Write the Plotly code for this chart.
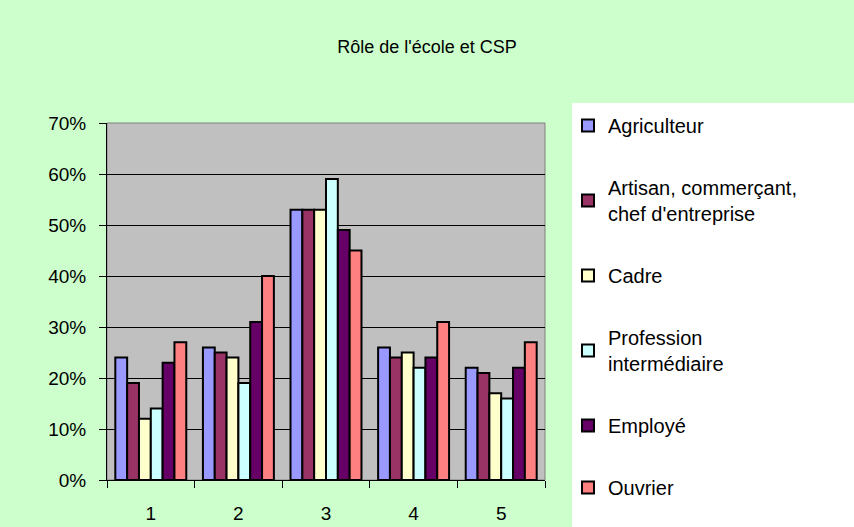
import plotly.graph_objects as go

categories = ["1", "2", "3", "4", "5"]
agriculteur = [0.24, 0.26, 0.53, 0.26, 0.22]
artisan = [0.19, 0.25, 0.53, 0.24, 0.21]
cadre = [0.12, 0.24, 0.53, 0.25, 0.17]
profession = [0.14, 0.19, 0.59, 0.22, 0.16]
employe = [0.23, 0.31, 0.49, 0.24, 0.22]
ouvrier = [0.27, 0.40, 0.45, 0.31, 0.27]

series_names = ["Agriculteur", "Artisan, commerçant,<br>chef d'entreprise", "Cadre",
                "Profession<br>intermédiaire", "Employé", "Ouvrier"]
series_values = [agriculteur, artisan, cadre, profession, employe, ouvrier]
colors = ["#9999FF", "#993366", "#FFFFCC", "#CCFFFF", "#660066", "#FF8080"]

fig = go.Figure()
for i, (name, vals, col) in enumerate(zip(series_names, series_values, colors)):
    fig.add_trace(go.Bar(
        x=categories, y=vals, name=name, legendgroup=f"g{i}",
        marker=dict(color=col, line=dict(color="black", width=2)),
    ))

FONT = "Liberation Sans, Arial, sans-serif"
fig.update_layout(
    width=854, height=527,
    margin=dict(l=107, r=309, t=123, b=47, autoexpand=False),
    paper_bgcolor="#CCFFCC",
    plot_bgcolor="#C0C0C0",
    font=dict(family=FONT, size=19, color="black"),
    title=dict(text="Rôle de l'école et CSP", x=0.5, xanchor="center",
               y=1 - 47 / 527, yanchor="middle", yref="container",
               font=dict(family=FONT, size=18, color="black")),
    barmode="group", bargap=0.19, bargroupgap=0,
    showlegend=True,
    legend=dict(x=(568 - 107) / 438, xanchor="left", y=(480 - 106) / 357,
                yanchor="top", maxheight=520,
                font=dict(family=FONT, size=20, color="black"),
                tracegroupgap=33, traceorder="grouped",
                bgcolor="rgba(0,0,0,0)", itemclick=False),
    xaxis=dict(type="category", showgrid=False, showline=True, linecolor="black",
               linewidth=1, ticks="outside", ticklen=7, tickcolor="black",
               tickson="boundaries", ticklabelstandoff=16, automargin=False,
               tickfont=dict(size=19), fixedrange=True),
    yaxis=dict(range=[0, 0.7], dtick=0.1, tickformat=".0%", showgrid=True,
               gridcolor="black", gridwidth=1, showline=True, linecolor="black",
               linewidth=1, ticks="outside", ticklen=7, tickcolor="black",
               ticklabelstandoff=9, tickfont=dict(size=19), zeroline=False,
               automargin=False, fixedrange=True),
    shapes=[
        dict(type="rect", xref="paper", yref="paper",
             x0=(572 - 107) / 438, x1=(854 - 107) / 438 + 0.01,
             y0=-0.2, y1=(480 - 103) / 357,
             fillcolor="white", line=dict(width=0), layer="below"),
        dict(type="rect", xref="paper", yref="paper", x0=0, x1=1, y0=0, y1=1,
             line=dict(color="#808080", width=1), layer="below"),
    ],
)

fig.write_html("out.html", config={"displayModeBar": False},
               post_script="document.body.style.margin='0';")
